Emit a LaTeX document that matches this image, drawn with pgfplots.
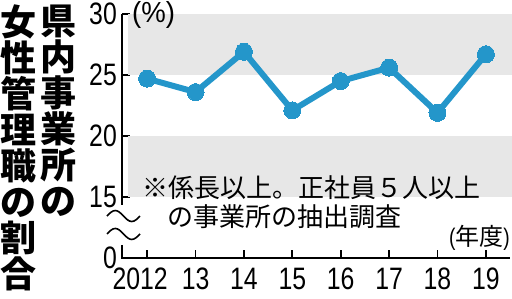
\documentclass[border=0pt]{standalone}
\usepackage{fontspec}
\usepackage{pgfplots}
\pgfplotsset{compat=1.18}
\newfontfamily\cjk{Noto Sans CJK JP}
\newfontfamily\numfont{Liberation Sans}[FakeStretch=0.8]
\newfontfamily\pctfont{Liberation Sans}[FakeStretch=0.95]
\definecolor{lineblue}{RGB}{36,150,202}
\definecolor{band}{RGB}{231,231,231}
\begin{document}
\begin{tikzpicture}
\path[use as bounding box] (0,0) rectangle (512pt,299pt);
\begin{axis}[
  at={(122pt,41pt)}, anchor=south west,
  scale only axis, width=390pt, height=244pt,
  xmin=2011.48, xmax=2019.54, ymin=10, ymax=30,
  axis line style={draw=none},
  xtick={2012,2013,2014,2015,2016,2017,2018,2019},
  xticklabels={\hspace*{-14pt}2012,13,14,15,16,17,18,19},
  ytick={10,15,20,25,30}, yticklabels={0,15,20,25,30},
  tick align=inside, tick pos=left,
  major tick length=8pt,
  tick style={black, line width=1.8pt},
  ticklabel style={font=\numfont\fontsize{31}{31}\selectfont, inner sep=0pt},
  yticklabel style={anchor=east, xshift=-5pt},
  xticklabel style={anchor=north, yshift=-10pt},
  clip=false,
]
\fill[band] (axis cs:2011.60,25) rectangle (axis cs:2019.54,30);
\fill[band] (axis cs:2011.60,15) rectangle (axis cs:2019.54,20);
\draw[line width=1.8pt] (axis cs:2011.48,30) -- (axis cs:2011.48,14.34);
\draw[line width=1.8pt] (axis cs:2011.48,11.07) -- (axis cs:2011.48,10) -- (axis cs:2019.49,10);
\draw[line width=1.6pt] (axis cs:2011.17,13.44) sin ++(8.25pt,5.5pt) cos ++(8.25pt,-5.5pt) sin ++(8.25pt,-5.5pt) cos ++(8.25pt,5.5pt);
\draw[line width=1.6pt] (axis cs:2011.17,11.97) sin ++(8.25pt,5.5pt) cos ++(8.25pt,-5.5pt) sin ++(8.25pt,-5.5pt) cos ++(8.25pt,5.5pt);
\addplot[color=lineblue, line width=6pt, mark=*, mark size=8.5pt,
  mark options={fill=lineblue, draw=lineblue, line width=0pt}]
  coordinates {(2012,24.7) (2013,23.6) (2014,26.9) (2015,22.1) (2016,24.5) (2017,25.6) (2018,21.9) (2019,26.7)};
\end{axis}
\node[font=\pctfont\fontsize{29}{29}\selectfont, anchor=west, inner sep=0pt] at (132pt,283.5pt) {(\%)};
\node[font=\cjk\fontsize{26}{29}\selectfont, anchor=west, inner sep=0pt] at (142pt,111pt) {※係長以上。正社員５人以上};
\node[font=\cjk\fontsize{26}{29}\selectfont, anchor=west, inner sep=0pt] at (167pt,82pt) {の事業所の抽出調査};
\node[font=\cjk\fontsize{24}{24}\selectfont, anchor=east, inner sep=0pt] at (510pt,61pt) {{\numfont(}年度{\numfont)}};
\node[font=\cjk\bfseries\fontsize{36}{36}\selectfont, anchor=north, inner sep=0pt, align=center] at (59pt,294pt) {県\\内\\事\\業\\所\\の};
\node[font=\cjk\bfseries\fontsize{36}{36}\selectfont, anchor=north, inner sep=0pt, align=center] at (19pt,294pt) {女\\性\\管\\理\\職\\の\\割\\合};
\end{tikzpicture}
\end{document}
